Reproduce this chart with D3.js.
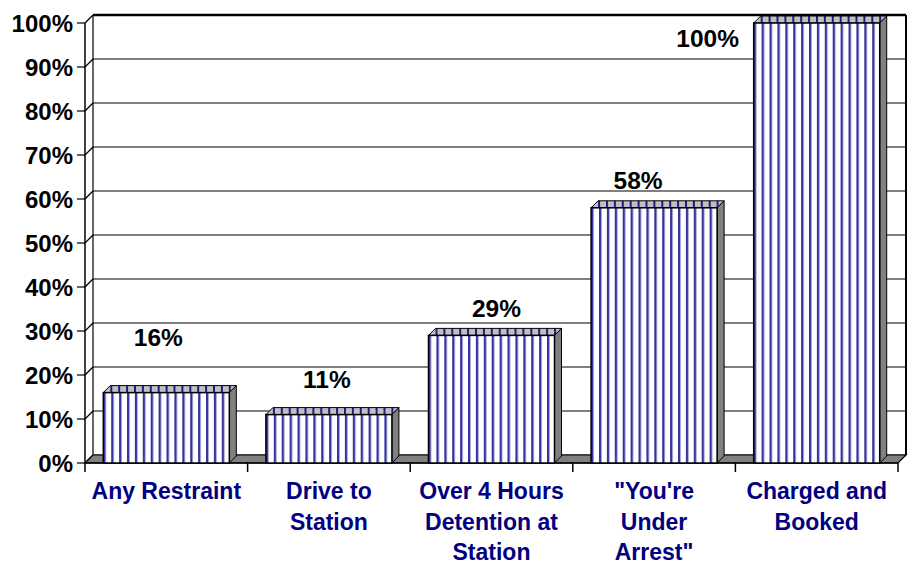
<!DOCTYPE html>
<html>
<head>
<meta charset="utf-8">
<script src="https://cdn.jsdelivr.net/npm/d3@7"></script>
<style>
  html, body { margin: 0; padding: 0; background: #fff; }
  svg { display: block; font-family: "Liberation Sans", Arial, sans-serif; }
</style>
</head>
<body>
<svg id="chart" width="914" height="565"></svg>
<script>
// chart data
const categories = [
    ["Any Restraint"],
    ["Drive to", "Station"],
    ["Over 4 Hours", "Detention at", "Station"],
    ["\"You're", "Under", "Arrest\""],
    ["Charged and", "Booked"]
];
const values = [0.16, 0.11, 0.29, 0.58, 1.00];
const valueLabels = ["16%", "11%", "29%", "58%", "100%"];
const yTicks = [0, 0.1, 0.2, 0.3, 0.4, 0.5, 0.6, 0.7, 0.8, 0.9, 1.0];

const svg = d3.select("#chart");
const depth = 8;      // wall depth
const barDepth = 7;   // column depth
const plotLeft = 85, plotRight = 898, plotBottom = 463, plotTop = 23;

const x = d3.scaleBand()
    .domain(d3.range(categories.length))
    .range([plotLeft, plotRight])
    .paddingInner(0.225)
    .paddingOuter(0.1125);

const y = d3.scaleLinear().domain([0, 1]).range([plotBottom, plotTop]);

// stripe patterns, one per bar so the stripes start at the bar edge
const defs = svg.append("defs");
values.forEach((v, i) => {
    const x0 = x(i);
    const front = defs.append("pattern")
        .attr("id", "stripeFront" + i)
        .attr("patternUnits", "userSpaceOnUse")
        .attr("x", x0).attr("y", 0)
        .attr("width", 7.9).attr("height", 10);
    front.append("rect").attr("width", 7.9).attr("height", 10).attr("fill", "#fff");
    front.append("rect").attr("x", 0).attr("width", 2).attr("height", 10).attr("fill", "#34349e");
    front.append("rect").attr("x", 2).attr("width", 1).attr("height", 10).attr("fill", "#a4a4d6");

    const topP = defs.append("pattern")
        .attr("id", "stripeTop" + i)
        .attr("patternUnits", "userSpaceOnUse")
        .attr("x", x0 + barDepth).attr("y", 0)
        .attr("width", 7.9).attr("height", 10);
    topP.append("rect").attr("width", 7.9).attr("height", 10).attr("fill", "#c0c0c0");
    topP.append("rect").attr("x", 0).attr("width", 2).attr("height", 10).attr("fill", "#1c1c8a");
});

const g = svg.append("g");

// gridlines on the back wall
g.selectAll(".grid")
    .data(yTicks)
    .enter().append("line")
    .attr("class", "grid")
    .attr("x1", plotLeft + depth).attr("x2", plotRight + depth)
    .attr("y1", d => y(d) - depth).attr("y2", d => y(d) - depth)
    .attr("stroke", "#000")
    .attr("stroke-width", d => d === 1 ? 2.5 : 1.2);

// diagonals on the side wall
g.selectAll(".side")
    .data(yTicks)
    .enter().append("line")
    .attr("class", "side")
    .attr("x1", plotLeft).attr("y1", d => y(d))
    .attr("x2", plotLeft + depth).attr("y2", d => y(d) - depth)
    .attr("stroke", "#000").attr("stroke-width", 1.2);

// back wall left and right edges
g.append("line")
    .attr("x1", plotLeft + depth).attr("x2", plotLeft + depth)
    .attr("y1", y(1) - depth).attr("y2", y(0) - depth)
    .attr("stroke", "#000").attr("stroke-width", 1.2);
g.append("line")
    .attr("x1", plotRight + depth).attr("x2", plotRight + depth)
    .attr("y1", y(1) - depth).attr("y2", y(0) - depth)
    .attr("stroke", "#000").attr("stroke-width", 2);

// floor
g.append("polygon")
    .attr("points", [
        [plotLeft, plotBottom], [plotLeft + depth, plotBottom - depth],
        [plotRight + depth, plotBottom - depth], [plotRight, plotBottom]
    ].map(p => p.join(",")).join(" "))
    .attr("fill", "#808080")
    .attr("stroke", "#000").attr("stroke-width", 1.2);

// front value axis
g.append("line")
    .attr("x1", plotLeft).attr("x2", plotLeft)
    .attr("y1", y(1)).attr("y2", y(0))
    .attr("stroke", "#000").attr("stroke-width", 1.5);

g.selectAll(".ytick")
    .data(yTicks)
    .enter().append("line")
    .attr("x1", plotLeft - 8).attr("x2", plotLeft)
    .attr("y1", d => y(d)).attr("y2", d => y(d))
    .attr("stroke", "#000").attr("stroke-width", 1.2);

g.selectAll(".ylabel")
    .data(yTicks)
    .enter().append("text")
    .attr("x", plotLeft - 12)
    .attr("y", d => y(d))
    .attr("dy", "0.36em")
    .attr("text-anchor", "end")
    .style("font-size", "24px")
    .style("font-weight", "bold")
    .attr("fill", "#000")
    .text(d => d3.format(".0%")(d));

// category axis
g.append("line")
    .attr("x1", plotLeft).attr("x2", plotRight)
    .attr("y1", plotBottom).attr("y2", plotBottom)
    .attr("stroke", "#000").attr("stroke-width", 1.5);

const boundaries = d3.range(categories.length + 1).map(i => plotLeft + i * x.step());
g.selectAll(".xtick")
    .data(boundaries)
    .enter().append("line")
    .attr("x1", d => d).attr("x2", d => d)
    .attr("y1", plotBottom).attr("y2", plotBottom + 9)
    .attr("stroke", "#000").attr("stroke-width", 1.5);

// columns
const bars = g.selectAll(".bar")
    .data(values)
    .enter().append("g")
    .attr("class", "bar");

bars.append("polygon")
    .attr("points", (d, i) => {
        const x0 = x(i), x1 = x(i) + x.bandwidth(), yt = y(d);
        return [[x0, yt], [x0 + barDepth, yt - barDepth], [x1 + barDepth, yt - barDepth], [x1, yt]]
            .map(p => p.join(",")).join(" ");
    })
    .attr("fill", (d, i) => "url(#stripeTop" + i + ")")
    .attr("stroke", "#000").attr("stroke-width", 1);

bars.append("polygon")
    .attr("points", (d, i) => {
        const x1 = x(i) + x.bandwidth(), yt = y(d);
        return [[x1, yt], [x1 + barDepth, yt - barDepth], [x1 + barDepth, plotBottom - barDepth], [x1, plotBottom]]
            .map(p => p.join(",")).join(" ");
    })
    .attr("fill", "#808080")
    .attr("stroke", "#000").attr("stroke-width", 1);

bars.append("rect")
    .attr("x", (d, i) => x(i))
    .attr("y", d => y(d))
    .attr("width", x.bandwidth())
    .attr("height", d => plotBottom - y(d))
    .attr("fill", (d, i) => "url(#stripeFront" + i + ")")
    .attr("stroke", "#000").attr("stroke-width", 1.5);

// value labels (Excel placed these a bit loosely)
const labelNudge = [[-8, -47], [-2, -27], [5, -18], [-16, -19], [-109, 24]];
g.selectAll(".vlabel")
    .data(values)
    .enter().append("text")
    .attr("x", (d, i) => x(i) + x.bandwidth() / 2 + labelNudge[i][0])
    .attr("y", (d, i) => y(d) + labelNudge[i][1])
    .attr("text-anchor", "middle")
    .style("font-size", "24.5px")
    .style("font-weight", "bold")
    .attr("fill", "#000")
    .text((d, i) => valueLabels[i]);

// category labels
const xl = g.selectAll(".xlabel")
    .data(categories)
    .enter().append("text")
    .attr("text-anchor", "middle")
    .style("font-size", "23px")
    .style("font-weight", "bold")
    .attr("fill", "#000080");

xl.selectAll("tspan")
    .data((d, i) => d.map(line => ({ line, i })))
    .enter().append("tspan")
    .attr("x", d => x(d.i) + x.bandwidth() / 2)
    .attr("y", (d, j) => 499 + j * 30.5)
    .text(d => d.line);
</script>
</body>
</html>
